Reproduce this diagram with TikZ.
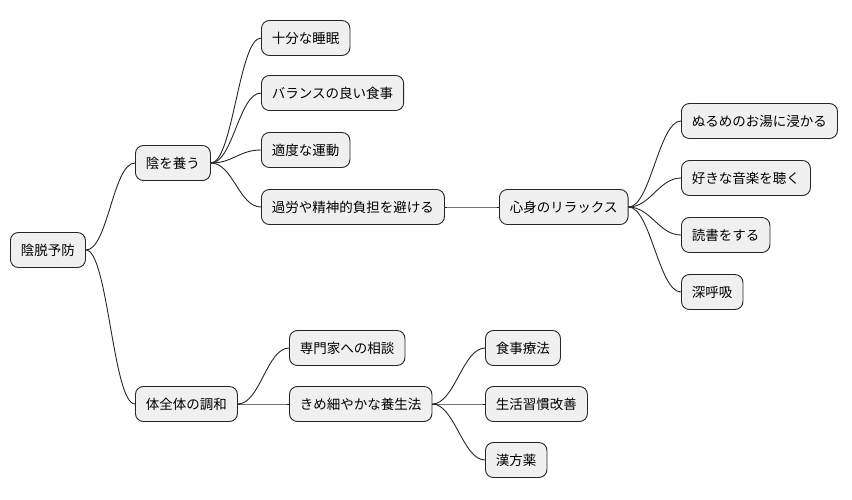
\documentclass[tikz,border=0pt]{standalone}
\usepackage{fontspec}
\setmainfont{Noto Sans CJK JP}
\begin{document}
\begin{tikzpicture}[x=1pt,y=-1pt,
  n/.style={draw=black!85,fill=black!6,rounded corners=8pt,line width=0.9pt,minimum height=35pt,inner xsep=10.5pt,inner ysep=0pt,anchor=west,font=\fontsize{13.5pt}{14pt}\selectfont},
  e/.style={draw=black!85,line width=0.9pt}]
\useasboundingbox (0,0) rectangle (852,499);
\node[n] (r) at (10,250) {陰脱予防};
\node[n] (a) at (135,163) {陰を養う};
\node[n] (b) at (135,404) {体全体の調和};
\node[n] (a1) at (261,38) {十分な睡眠};
\node[n] (a2) at (261,93) {バランスの良い食事};
\node[n] (a3) at (261,150) {適度な運動};
\node[n] (a4) at (261,207) {過労や精神的負担を避ける};
\node[n] (c) at (499,207) {心身のリラックス};
\node[n] (c1) at (681,121) {ぬるめのお湯に浸かる};
\node[n] (c2) at (681,178) {好きな音楽を聴く};
\node[n] (c3) at (681,235) {読書をする};
\node[n] (c4) at (681,292) {深呼吸};
\node[n] (b1) at (289,348) {専門家への相談};
\node[n] (b2) at (289,404) {きめ細やかな養生法};
\node[n] (d1) at (485,348) {食事療法};
\node[n] (d2) at (485,404) {生活習慣改善};
\node[n] (d3) at (485,460) {漢方薬};
\foreach \p/\c in {r/a,r/b,a/a1,a/a2,a/a3,a/a4,a4/c,c/c1,c/c2,c/c3,c/c4,b/b1,b/b2,b2/d1,b2/d2,b2/d3}
  \draw[e] (\p.east) .. controls ([xshift=22pt]\p.east) and ([xshift=-22pt]\c.west) .. (\c.west);
\end{tikzpicture}
\end{document}
